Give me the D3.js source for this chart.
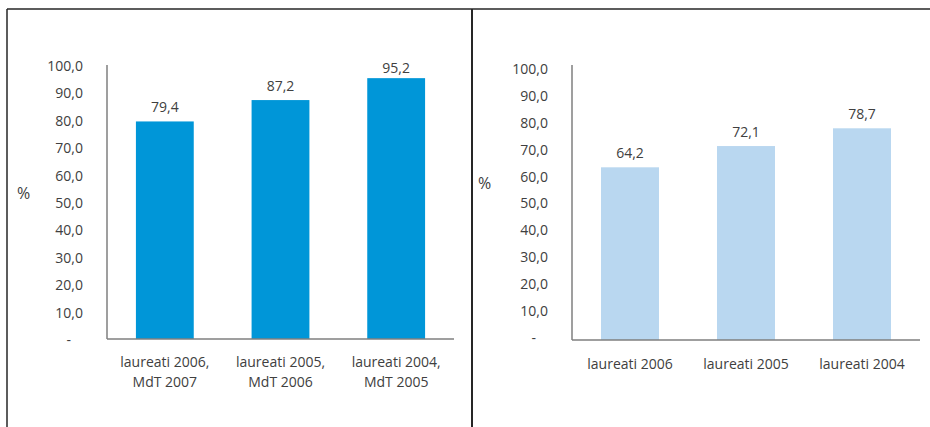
<!DOCTYPE html>
<html>
<head>
<meta charset="utf-8">
<script src="https://cdn.jsdelivr.net/npm/d3@7"></script>
<style>
  html, body { margin: 0; padding: 0; background: #fff; }
  svg { display: block; }
  text { font-family: "Open Sans", "Noto Sans", sans-serif; fill: #404040; }
</style>
</head>
<body>
<svg id="chart" width="930" height="427"></svg>
<script>
// Values (percent)
const leftCategories = [["laureati 2006,", "MdT 2007"], ["laureati 2005,", "MdT 2006"], ["laureati 2004,", "MdT 2005"]];
const leftValues = [79.4, 87.2, 95.2];
const rightCategories = [["laureati 2006"], ["laureati 2005"], ["laureati 2004"]];
const rightValues = [64.2, 72.1, 78.7];
const tickValues = [0, 10, 20, 30, 40, 50, 60, 70, 80, 90, 100];
const unitLabel = "%";

const svg = d3.select("#chart");
const fmt = v => v === 0 ? "-" : d3.format(".1f")(v).replace(".", ",");

// Panel frame
svg.append("line").attr("x1", 7).attr("x2", 930).attr("y1", 9).attr("y2", 9)
  .attr("stroke", "#262626").attr("stroke-width", 1.5);
svg.append("line").attr("x1", 7).attr("x2", 7).attr("y1", 9).attr("y2", 427)
  .attr("stroke", "#262626").attr("stroke-width", 1.5);
svg.append("line").attr("x1", 472).attr("x2", 472).attr("y1", 9).attr("y2", 427)
  .attr("stroke", "#262626").attr("stroke-width", 2);

function drawPanel(cfg) {
  const g = svg.append("g");
  const x = d3.scaleBand().domain(cfg.categories.map((d, i) => i))
    .range([cfg.x0, cfg.x1]).paddingInner(0.5).paddingOuter(0.25);
  const y = d3.scaleLinear().domain([0, 100]).range([cfg.y0, cfg.yTop]);

  // bars
  g.selectAll("rect.bar").data(cfg.values).join("rect")
    .attr("class", "bar")
    .attr("x", (d, i) => x(i))
    .attr("width", x.bandwidth())
    .attr("y", d => y(d))
    .attr("height", d => y(0) - y(d))
    .attr("fill", cfg.color);

  // value labels, kept inside the plot area
  g.selectAll("text.val").data(cfg.values).join("text")
    .attr("class", "val")
    .attr("x", (d, i) => x(i) + x.bandwidth() / 2)
    .attr("y", d => Math.max(y(d) - 9, cfg.axisTop + 8))
    .attr("text-anchor", "middle")
    .style("font-size", "14px")
    .text(fmt);

  // y axis
  const yAxis = d3.axisLeft(y).tickValues(tickValues).tickFormat(fmt).tickSize(0).tickPadding(0);
  const ya = g.append("g").attr("transform", `translate(${cfg.labelX},${cfg.tickShift})`).call(yAxis);
  ya.select(".domain").remove();
  ya.selectAll("text").style("font-size", "14px").attr("fill", "#404040")
    .attr("font-family", null)
    .attr("dx", d => d === 0 ? -12 : 0);

  g.append("line").attr("x1", cfg.x0).attr("x2", cfg.x0)
    .attr("y1", cfg.axisTop).attr("y2", y(0))
    .attr("stroke", "#7f7f7f").attr("stroke-width", 1.5);
  g.append("line").attr("x1", cfg.x0).attr("x2", cfg.x1)
    .attr("y1", y(0)).attr("y2", y(0))
    .attr("stroke", "#7f7f7f").attr("stroke-width", 1.5);

  // category labels
  cfg.categories.forEach((lines, i) => {
    const t = g.append("text")
      .attr("x", x(i) + x.bandwidth() / 2)
      .attr("y", cfg.catY)
      .attr("text-anchor", "middle")
      .style("font-size", "14px");
    lines.forEach((s, k) => {
      t.append("tspan").attr("x", x(i) + x.bandwidth() / 2)
        .attr("dy", k === 0 ? 0 : 20).text(s);
    });
  });

  g.append("text").attr("x", cfg.unitX).attr("y", cfg.unitY)
    .style("font-size", "16px").text(unitLabel);
}

drawPanel({
  categories: leftCategories, values: leftValues, color: "#0096d8",
  x0: 107, x1: 454, y0: 339, yTop: 65, axisTop: 65, tickShift: 1,
  labelX: 83, catY: 367, unitX: 17, unitY: 199
});

drawPanel({
  categories: rightCategories, values: rightValues, color: "#b9d7f0",
  x0: 572, x1: 920, y0: 340, yTop: 71, axisTop: 65, tickShift: -2,
  labelX: 548, catY: 369, unitX: 478, unitY: 189
});
</script>
</body>
</html>
